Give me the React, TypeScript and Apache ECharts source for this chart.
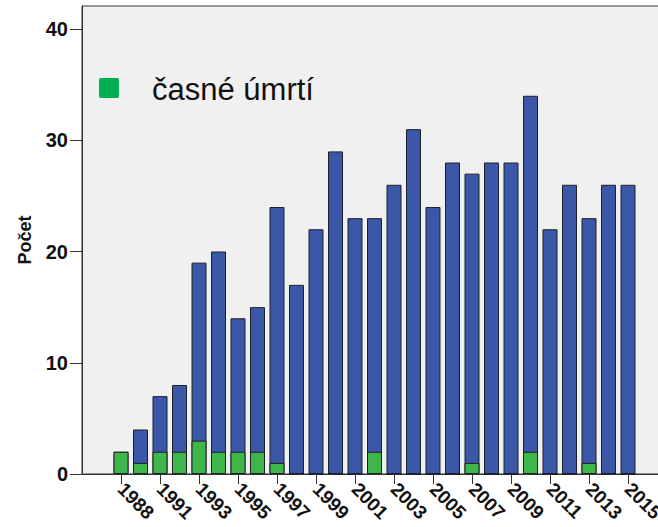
import React, { useEffect, useRef } from "react";
import * as echarts from "echarts";

const years = [
  "1988", "1990", "1991", "1992", "1993", "1994", "1995", "1996", "1997",
  "1998", "1999", "2000", "2001", "2002", "2003", "2004", "2005", "2006",
  "2007", "2008", "2009", "2010", "2011", "2012", "2013", "2014", "2015",
];
const totalCounts = [
  2, 4, 7, 8, 19, 20, 14, 15, 24, 17, 22, 29, 23, 23, 26, 31, 24, 28, 27, 28,
  28, 34, 22, 26, 23, 26, 26,
];
const earlyDeaths = [
  2, 1, 2, 2, 3, 2, 2, 2, 1, 0, 0, 0, 0, 2, 0, 0, 0, 0, 1, 0, 0, 2, 0, 0, 1,
  0, 0,
];
const yTicks = [0, 10, 20, 30, 40];
const legendLabel = "časné úmrtí";
const yAxisTitle = "Počet";

const FONT = "'Liberation Sans', Arial, Helvetica, sans-serif";

export default function App() {
  const ref = useRef<HTMLDivElement>(null);

  useEffect(() => {
    if (!ref.current) return;
    const chart = echarts.init(ref.current, null, { renderer: "svg" });
    const xTickValues = years.map((_, i) => i).filter((i) => i % 2 === 0);

    chart.setOption({
      animation: false,
      backgroundColor: "#ffffff",
      grid: {
        left: 82,
        right: 13,
        top: 6,
        bottom: 53,
        show: true,
        backgroundColor: "#f0f0f0",
        borderColor: "#333333",
        borderWidth: 1,
      },
      xAxis: {
        type: "value",
        min: -2,
        max: 28,
        splitLine: { show: false },
        axisLine: {
          show: true,
          onZero: false,
          lineStyle: { color: "#333333", width: 1 },
        },
        axisTick: {
          show: true,
          length: 10,
          customValues: xTickValues,
          lineStyle: { color: "#333333", width: 1 },
        },
        axisLabel: {
          customValues: xTickValues,
          formatter: (v: number) => years[Math.round(v)] ?? "",
          rotate: -45,
          margin: 12,
          color: "#111111",
          fontFamily: FONT,
          fontWeight: "bold",
          fontSize: 19,
        },
      },
      yAxis: {
        type: "value",
        min: 0,
        max: 42.07,
        name: yAxisTitle,
        nameLocation: "middle",
        nameGap: 48,
        nameTextStyle: {
          fontFamily: FONT,
          fontWeight: "bold",
          fontSize: 18,
          color: "#111111",
        },
        splitLine: { show: false },
        axisLine: {
          show: true,
          onZero: false,
          lineStyle: { color: "#333333", width: 1 },
        },
        axisTick: {
          show: true,
          length: 12,
          customValues: yTicks,
          lineStyle: { color: "#333333", width: 1 },
        },
        axisLabel: {
          customValues: yTicks,
          margin: 14,
          color: "#111111",
          fontFamily: FONT,
          fontWeight: "bold",
          fontSize: 20,
        },
      },
      graphic: [
        {
          type: "rect",
          left: 99,
          top: 78,
          shape: { width: 20, height: 20, r: 2 },
          style: { fill: "#00b050" },
          z: 100,
        },
        {
          type: "text",
          x: 152,
          y: 89,
          style: {
            text: legendLabel,
            fill: "#111111",
            font: `31px ${FONT}`,
            verticalAlign: "middle",
          },
          z: 100,
        },
      ],
      series: [
        {
          name: "celkem",
          type: "bar",
          barWidth: 15,
          barGap: "-100%",
          itemStyle: { color: "#3b57a8", borderColor: "#1f1f2a", borderWidth: 1 },
          data: totalCounts.map((v, i) => [i, v]),
        },
        {
          name: legendLabel,
          type: "bar",
          barWidth: 15,
          barGap: "-100%",
          itemStyle: { color: "#3fb64a", borderColor: "#1f1f2a", borderWidth: 1 },
          data: earlyDeaths.map((v, i) => [i, v]),
        },
      ],
    });

    return () => chart.dispose();
  }, []);

  return (
    <div
      style={{
        position: "fixed",
        left: 0,
        top: 0,
        width: 658,
        height: 527,
        overflow: "hidden",
        background: "#ffffff",
      }}
    >
      <div ref={ref} style={{ width: 680, height: 527 }} />
    </div>
  );
}
